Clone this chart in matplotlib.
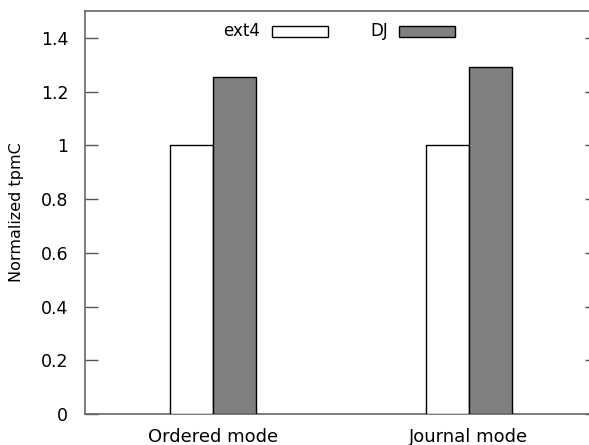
import matplotlib
matplotlib.use('Agg')
import matplotlib.pyplot as plt
from matplotlib.patches import Rectangle
from matplotlib.ticker import FuncFormatter
import numpy as np

modes = ['Ordered mode', 'Journal mode']
ext4 = [1.0, 1.0]
dj = [1.255, 1.29]
yticks = [0, 0.2, 0.4, 0.6, 0.8, 1.0, 1.2, 1.4]

fig = plt.figure(figsize=(5.89, 4.45), dpi=100)
ax = fig.add_axes([85/589, 31/445, 512/589, 403/445])

x = np.arange(len(modes))
w = 0.168
ax.bar(x - w/2, ext4, w, color='white', edgecolor='black', linewidth=1.0, zorder=3)
ax.bar(x + w/2, dj, w, color='#808080', edgecolor='black', linewidth=1.0, zorder=3)

ax.set_xlim(-0.5, 1.5)
ax.set_ylim(0, 1.5)
ax.set_xticks(x)
ax.set_xticklabels(modes, fontsize=13)
ax.set_yticks(yticks)
ax.yaxis.set_major_formatter(FuncFormatter(lambda v, p: '%g' % v))
ax.tick_params(axis='y', direction='in', length=9, width=1, color='#555555',
               labelsize=12.5, pad=12, right=True)
ax.tick_params(axis='x', length=0, pad=10)
ax.set_ylabel('Normalized tpmC', fontsize=11.5, labelpad=12)
for s in ['left', 'bottom', 'top', 'right']:
    ax.spines[s].set_color('#666666')
    ax.spines[s].set_linewidth(1.2)

# gnuplot-style key
tr = ax.transAxes
def key(label, tx, bx, fc):
    ax.text(tx, 1 - 20/403, label, transform=tr, ha='right', va='center', fontsize=12)
    ax.add_patch(Rectangle((bx, 1 - 26/403), 56/512, 11/403, transform=tr,
                           facecolor=fc, edgecolor='black', linewidth=1.0, clip_on=False))
key('ext4', (260-85)/512, (272-85)/512, 'white')
key('DJ', (388-85)/512, (399-85)/512, '#808080')

plt.savefig('out.png', dpi=100)
plt.close()
